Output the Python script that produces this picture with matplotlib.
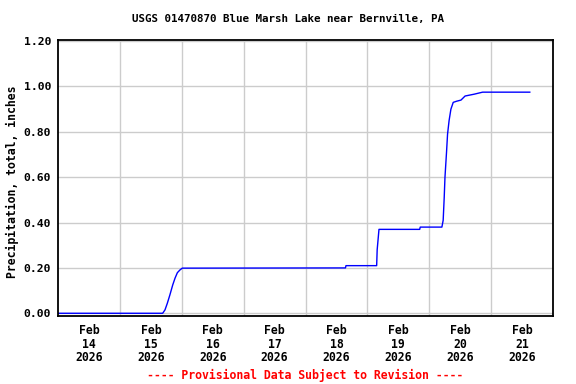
import numpy as np
import pandas as pd
import matplotlib
matplotlib.use('Agg')
import matplotlib.pyplot as plt
import matplotlib.dates as mdates

# ── Data (hours after Feb 14 2026 00:00, inches) ─────────────────────────────
hours = [0.0, 40.6, 41.5, 42.4, 43.4, 44.5, 45.4, 46.3, 47.3, 48.2,
         111.5, 111.7, 123.6, 123.8, 124.5, 140.3, 140.5, 148.9,
         149.4, 149.8, 150.1, 150.7, 151.1, 151.7, 152.4, 153.3,
         154.6, 156.3, 157.9, 161.4, 164.7, 183.0]
precip = [0.0, 0.0, 0.015, 0.044, 0.081, 0.125, 0.155, 0.179, 0.191, 0.199,
          0.200, 0.210, 0.210, 0.280, 0.370, 0.370, 0.380, 0.380,
          0.410, 0.510, 0.600, 0.710, 0.790, 0.850, 0.900, 0.930,
          0.935, 0.940, 0.958, 0.966, 0.975, 0.975]

day_labels = ['Feb\n14\n2026', 'Feb\n15\n2026', 'Feb\n16\n2026', 'Feb\n17\n2026',
              'Feb\n18\n2026', 'Feb\n19\n2026', 'Feb\n20\n2026', 'Feb\n21\n2026']
y_ticks = [0.0, 0.2, 0.4, 0.6, 0.8, 1.0, 1.2]

TITLE = 'USGS 01470870 Blue Marsh Lake near Bernville, PA'
YLABEL = 'Precipitation, total, inches'
FOOTER = '---- Provisional Data Subject to Revision ----'

start = pd.Timestamp('2026-02-14')
times = start + pd.to_timedelta(hours, unit='h')

plt.rcParams['font.family'] = ['DejaVu Sans Mono']
plt.rcParams['font.weight'] = 'bold'

fig = plt.figure(figsize=(5.76, 3.84), dpi=100)
ax = fig.add_axes([58 / 576, 1 - 316 / 384, (553 - 58) / 576, (316 - 40) / 384])

ax.plot(times, precip, color='#0000ff', lw=1.0)

ax.set_xlim(start, start + pd.Timedelta(days=8))
ax.set_ylim(-0.012, 1.205)

# gridlines at midnight, labels at noon
midnights = [start + pd.Timedelta(days=d) for d in range(1, 8)]
noons = [start + pd.Timedelta(days=d, hours=12) for d in range(8)]
ax.set_xticks(midnights)
ax.set_xticklabels([])
ax.set_xticks(noons, minor=True)
ax.set_xticklabels(day_labels, minor=True, fontsize=8.3, fontweight='bold',
                   linespacing=1.05)
ax.tick_params(axis='x', which='both', length=0, pad=6)

ax.set_yticks(y_ticks)
ax.set_yticklabels([f'{v:.2f}' for v in y_ticks], fontsize=8.2, fontweight='bold')
ax.tick_params(axis='y', length=0, pad=5)

ax.grid(True, which='major', color='#cccccc', lw=1.0)
ax.set_axisbelow(True)
for sp in ax.spines.values():
    sp.set_color('black')
    sp.set_linewidth(1.3)

fig.text(12 / 576, 1 - 182 / 384, YLABEL, rotation=90, ha='center', va='center',
         fontsize=8.3, fontweight='bold')
fig.text(0.5, 1 - 19 / 384, TITLE, ha='center', va='center',
         fontsize=7.8, fontweight='bold')
fig.text(305 / 576, 1 - 375 / 384, FOOTER, ha='center', va='center',
         fontsize=8.3, fontweight='bold', color='#ff0000')

fig.savefig('out.png', dpi=100)
